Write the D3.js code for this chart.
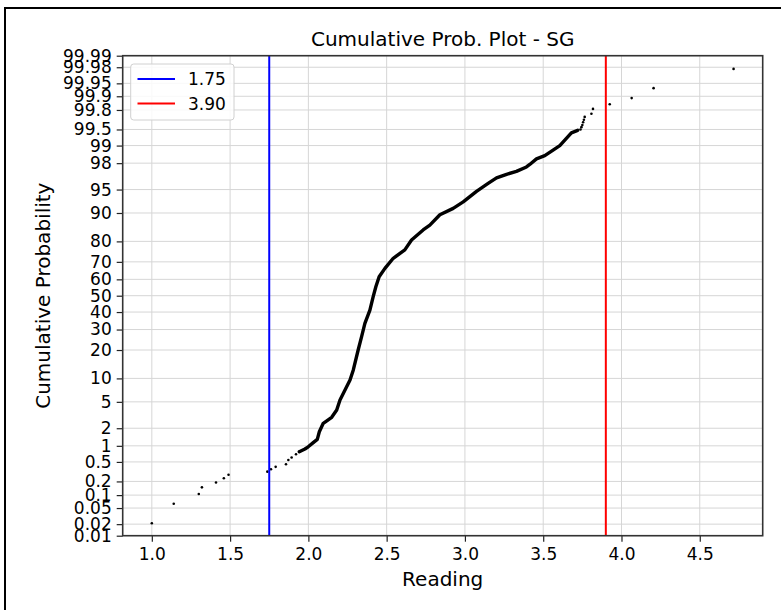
<!DOCTYPE html>
<html>
<head>
<meta charset="utf-8">
<script src="https://cdn.jsdelivr.net/npm/d3@7"></script>
<style>
  html, body { margin: 0; padding: 0; background: #fff; }
  svg { display: block; font-family: "DejaVu Sans", sans-serif; }
</style>
</head>
<body>
<svg id="chart" width="781" height="610"></svg>
<script>
// ---------------- data ----------------
const yTickPercents = [0.01, 0.02, 0.05, 0.1, 0.2, 0.5, 1, 2, 5, 10, 20, 30, 40, 50, 60, 70, 80, 90, 95, 98, 99, 99.5, 99.8, 99.9, 99.95, 99.98, 99.99];
const yTickLabels = ["0.01", "0.02", "0.05", "0.1", "0.2", "0.5", "1", "2", "5", "10", "20", "30", "40", "50", "60", "70", "80", "90", "95", "98", "99", "99.5", "99.8", "99.9", "99.95", "99.98", "99.99"];
const xTicks = [1.0, 1.5, 2.0, 2.5, 3.0, 3.5, 4.0, 4.5];

// isolated points in the tails (reading, cumulative %)
const tailReading = [1.00, 1.14, 1.30, 1.32, 1.41, 1.46, 1.49, 1.738, 1.761, 1.791, 1.857, 1.872, 1.893, 1.921, 1.942,
                     3.738, 3.744, 3.750, 3.755, 3.760, 3.765, 3.808, 3.818, 3.925, 4.065, 4.205, 4.716];
const tailPercent = [0.021, 0.063, 0.106, 0.149, 0.19, 0.233, 0.277, 0.32, 0.357, 0.40, 0.45, 0.545, 0.61, 0.70, 0.78,
                     99.50, 99.55, 99.59, 99.64, 99.68, 99.72, 99.76, 99.81, 99.85, 99.89, 99.935, 99.978];

// dense run of points (reading, cumulative %)
const curveReading = [1.942, 1.978, 1.999, 2.031, 2.057, 2.070, 2.095, 2.149, 2.181, 2.202, 2.234, 2.266, 2.287, 2.318, 2.340,
                      2.361, 2.393, 2.414, 2.431, 2.452, 2.489, 2.542, 2.616, 2.659, 2.733, 2.776, 2.840, 2.925, 2.989, 3.074,
                      3.148, 3.202, 3.266, 3.329, 3.393, 3.414, 3.457, 3.510, 3.563, 3.606, 3.648, 3.680, 3.720];
const curvePercent = [0.78, 0.875, 0.96, 1.14, 1.30, 1.75, 2.40, 2.98, 3.83, 5.31, 7.20, 9.58, 12.5, 20.0, 26.3,
                      33.4, 41.2, 49.4, 55.5, 61.6, 66.4, 71.9, 76.1, 80.6, 84.6, 86.3, 89.5, 91.2, 92.7, 94.7,
                      95.9, 96.6, 97.0, 97.3, 97.7, 97.9, 98.3, 98.5, 98.8, 99.0, 99.26, 99.42, 99.48];

const limitValues = [1.75, 3.90];
const limitLabels = ["1.75", "3.90"];
const limitColors = ["#0000ff", "#ff0000"];

const xDomain = [0.814, 4.902];

// ---------------- helpers ----------------
// inverse standard normal CDF (Acklam)
function probit(p) {
  const a = [-3.969683028665376e+01, 2.209460984245205e+02, -2.759285104469687e+02, 1.383577518672690e+02, -3.066479806614716e+01, 2.506628277459239e+00];
  const b = [-5.447609879822406e+01, 1.615858368580409e+02, -1.556989798598866e+02, 6.680131188771972e+01, -1.328068155288572e+01];
  const c = [-7.784894002430293e-03, -3.223964580411365e-01, -2.400758277161838e+00, -2.549732539343734e+00, 4.374664141464968e+00, 2.938163982698783e+00];
  const d = [7.784695709041462e-03, 3.224671290700398e-01, 2.445134137142996e+00, 3.754408661907416e+00];
  const pl = 0.02425, ph = 1 - pl;
  let q, r;
  if (p < pl) {
    q = Math.sqrt(-2 * Math.log(p));
    return (((((c[0]*q+c[1])*q+c[2])*q+c[3])*q+c[4])*q+c[5]) / ((((d[0]*q+d[1])*q+d[2])*q+d[3])*q+1);
  } else if (p <= ph) {
    q = p - 0.5; r = q*q;
    return (((((a[0]*r+a[1])*r+a[2])*r+a[3])*r+a[4])*r+a[5])*q / (((((b[0]*r+b[1])*r+b[2])*r+b[3])*r+b[4])*r+1);
  } else {
    q = Math.sqrt(-2 * Math.log(1 - p));
    return -(((((c[0]*q+c[1])*q+c[2])*q+c[3])*q+c[4])*q+c[5]) / ((((d[0]*q+d[1])*q+d[2])*q+d[3])*q+1);
  }
}

// ---------------- layout ----------------
const plot = { left: 122.7, right: 762.7, top: 55.7, bottom: 535.7 };
const svg = d3.select("#chart");

// figure frame
svg.append("rect").attr("x", 5).attr("y", 8).attr("width", 820).attr("height", 700)
  .attr("fill", "#fff").attr("stroke", "#000").attr("stroke-width", 2);

const x = d3.scaleLinear().domain(xDomain).range([plot.left, plot.right]);
const z = d3.scaleLinear().domain([probit(0.0001), probit(0.9999)]).range([plot.bottom, plot.top]);
const y = pct => z(probit(pct / 100));

// plot background
svg.append("rect").attr("x", plot.left).attr("y", plot.top)
  .attr("width", plot.right - plot.left).attr("height", plot.bottom - plot.top).attr("fill", "#fff");

// grid
const grid = svg.append("g").attr("stroke", "#d6d6d6").attr("stroke-width", 1);
grid.selectAll("line.gx").data(xTicks).join("line")
  .attr("x1", d => x(d)).attr("x2", d => x(d)).attr("y1", plot.top).attr("y2", plot.bottom);
grid.selectAll("line.gy").data(yTickPercents).join("line")
  .attr("x1", plot.left).attr("x2", plot.right).attr("y1", d => y(d)).attr("y2", d => y(d));

// dense curve
const curve = curveReading.map((r, i) => [r, curvePercent[i]]);
svg.append("path")
  .attr("d", d3.line().x(d => x(d[0])).y(d => y(d[1]))(curve))
  .attr("fill", "none").attr("stroke", "#000").attr("stroke-width", 3.4)
  .attr("stroke-linejoin", "round").attr("stroke-linecap", "round");

// tail points
svg.append("g").selectAll("circle").data(tailReading.map((r, i) => [r, tailPercent[i]])).join("circle")
  .attr("cx", d => x(d[0])).attr("cy", d => y(d[1])).attr("r", 1.3).attr("fill", "#000");

// limit lines
svg.append("g").selectAll("line").data(limitValues).join("line")
  .attr("x1", d => x(d)).attr("x2", d => x(d)).attr("y1", plot.top).attr("y2", plot.bottom)
  .attr("stroke", (d, i) => limitColors[i]).attr("stroke-width", 2);

// axes
const xAxis = d3.axisBottom(x).tickValues(xTicks).tickFormat(d3.format(".1f")).tickSize(6).tickPadding(6);
const gx = svg.append("g").attr("transform", `translate(0,${plot.bottom})`).call(xAxis);
gx.select(".domain").remove();
gx.selectAll(".tick line").attr("stroke", "#222").attr("stroke-width", 1.2);
gx.selectAll(".tick text").attr("font-size", 17).attr("fill", "#000").attr("font-family", "DejaVu Sans");

const yAxis = d3.axisLeft(z).tickValues(yTickPercents.map(p => probit(p / 100)))
  .tickFormat((d, i) => yTickLabels[i]).tickSize(6).tickPadding(5);
const gy = svg.append("g").attr("transform", `translate(${plot.left},0)`).call(yAxis);
gy.select(".domain").remove();
gy.selectAll(".tick line").attr("stroke", "#222").attr("stroke-width", 1.2);
gy.selectAll(".tick text").attr("font-size", 17).attr("fill", "#000").attr("font-family", "DejaVu Sans");

// spines
svg.append("rect").attr("x", plot.left).attr("y", plot.top)
  .attr("width", plot.right - plot.left).attr("height", plot.bottom - plot.top)
  .attr("fill", "none").attr("stroke", "#333").attr("stroke-width", 1.6);

// titles
svg.append("text").attr("x", (plot.left + plot.right) / 2).attr("y", 46)
  .attr("text-anchor", "middle").attr("font-size", 20).text("Cumulative Prob. Plot - SG");
svg.append("text").attr("x", (plot.left + plot.right) / 2).attr("y", 586)
  .attr("text-anchor", "middle").attr("font-size", 20).text("Reading");
svg.append("text").attr("transform", `translate(50,${(plot.top + plot.bottom) / 2}) rotate(-90)`)
  .attr("text-anchor", "middle").attr("font-size", 20).text("Cumulative Probability");

// legend
const lg = svg.append("g");
lg.append("rect").attr("x", 130.7).attr("y", 64).attr("width", 103.3).attr("height", 56)
  .attr("rx", 3).attr("fill", "#fff").attr("fill-opacity", 0.85).attr("stroke", "#d0d0d0").attr("stroke-width", 1);
limitLabels.forEach((lab, i) => {
  const ly = 79 + i * 24.5;
  lg.append("line").attr("x1", 137.5).attr("x2", 175).attr("y1", ly).attr("y2", ly)
    .attr("stroke", limitColors[i]).attr("stroke-width", 2);
  lg.append("text").attr("x", 188).attr("y", ly + 6).attr("font-size", 17).text(lab);
});
</script>
</body>
</html>
